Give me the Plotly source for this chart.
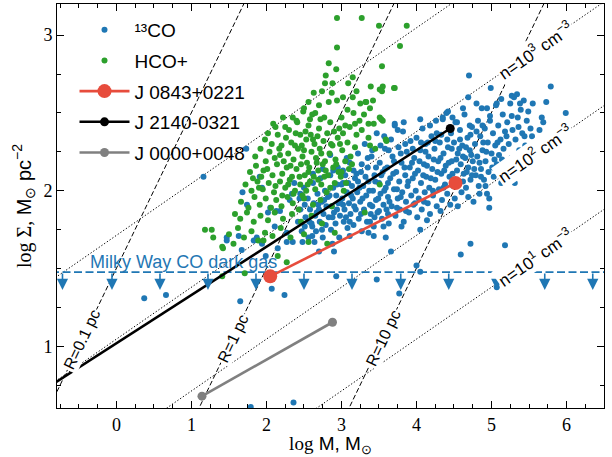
import numpy as np
import plotly.graph_objects as go

# ---------------- data ----------------
x_range = [-0.793, 6.5]
y_range = [0.604, 3.2]
x_ticks = [0, 1, 2, 3, 4, 5, 6]
y_ticks = [1, 2, 3]

# 13CO clouds: (log M, log Sigma)
co_points = [
    (1.16, 2.09), (1.73, 2.27), (1.68, 1.99), (1.74, 1.91), (2.02, 1.86), (2.13, 1.87), (2.37, 2.05), (2.34, 1.98),
    (0.37, 1.31), (0.66, 1.33), (1.65, 1.29), (2.07, 1.37), (2.24, 1.33), (1.79, 0.61), (2.36, 0.64),
    (1.47, 1.70), (1.63, 1.71), (1.83, 1.68), (1.94, 1.66), (1.99, 1.58), (2.15, 1.63), (2.27, 1.67), (2.35, 1.67),
    (2.48, 1.67), (2.61, 1.71), (2.64, 1.67), (2.88, 1.66), (2.90, 1.61), (2.70, 1.61), (3.11, 1.71), (3.43, 1.71),
    (3.59, 1.70), (3.66, 1.61), (2.93, 1.45), (3.47, 1.43), (3.77, 1.34), (4.00, 1.52), (4.05, 1.48), (4.59, 1.59),
    (4.72, 1.66), (5.18, 1.65), (5.07, 1.38), (4.05, 1.75),
    (1.91, 2.09), (1.94, 2.02), (2.05, 1.89), (2.18, 1.87), (2.31, 1.94), (2.45, 1.98), (2.51, 1.91), (2.61, 1.77),
    (2.74, 1.75), (2.27, 1.73), (2.11, 1.77), (1.87, 1.70), (1.67, 1.62), (1.47, 1.68), (2.94, 1.88), (3.02, 2.05),
    (2.62, 2.11), (2.75, 2.14), (2.89, 2.13), (3.02, 2.13), (3.07, 2.21), (2.85, 2.23),
    (2.42, 1.80), (2.45, 1.88), (2.47, 1.74), (2.50, 2.02), (2.52, 1.83), (2.55, 1.95), (2.56, 1.70), (2.58, 1.88),
    (2.60, 1.79), (2.62, 2.05), (2.63, 1.92), (2.65, 1.84), (2.66, 1.74), (2.68, 1.98), (2.70, 1.88), (2.71, 1.80),
    (2.72, 2.08), (2.74, 1.93), (2.75, 1.70), (2.76, 1.85), (2.78, 2.00), (2.79, 1.78), (2.80, 1.90),
    (2.82, 1.96), (2.83, 1.83), (2.85, 2.10), (2.86, 1.75), (2.87, 1.90), (2.89, 2.02), (2.90, 1.86), (2.92, 1.79),
    (2.93, 1.97), (2.95, 2.15), (2.96, 1.92), (2.97, 1.70), (2.98, 1.84), (3.00, 2.04), (3.01, 1.95), (3.03, 1.80),
    (3.04, 1.88), (3.05, 2.10), (3.07, 1.99), (3.08, 1.76), (3.10, 1.92), (3.11, 2.18), (3.12, 1.85), (3.14, 2.03),
    (3.15, 1.95), (3.16, 1.78), (3.18, 2.08), (3.19, 1.88),
    (3.21, 1.99), (3.22, 2.24), (3.23, 1.82), (3.25, 1.93), (3.26, 2.12), (3.27, 1.74), (3.29, 2.03), (3.30, 1.88),
    (3.31, 2.30), (3.33, 1.97), (3.34, 1.80), (3.35, 2.15), (3.36, 2.06), (3.38, 1.91), (3.39, 1.85), (3.40, 2.22),
    (3.42, 2.00), (3.43, 1.77), (3.44, 2.10), (3.46, 1.94), (3.47, 2.37), (3.48, 1.86), (3.50, 2.05), (3.51, 2.18),
    (3.52, 1.98), (3.54, 1.82), (3.55, 2.12), (3.56, 1.91), (3.58, 2.27), (3.59, 2.02), (3.60, 1.88),
    (3.61, 2.15), (3.62, 1.96), (3.63, 1.79), (3.65, 2.08), (3.66, 2.33), (3.67, 1.90), (3.68, 2.22), (3.70, 2.01),
    (3.71, 2.43), (3.72, 1.84), (3.73, 2.12), (3.75, 1.95), (3.76, 2.28), (3.77, 2.06), (3.78, 1.88), (3.80, 2.18),
    (3.81, 1.99), (3.82, 2.38), (3.83, 1.80), (3.85, 2.10), (3.86, 1.93), (3.87, 2.25), (3.88, 2.03), (3.90, 1.86),
    (3.91, 2.15), (3.92, 2.32), (3.93, 1.97), (3.95, 2.08), (3.96, 1.91), (3.97, 2.21), (3.99, 2.00), (4.00, 2.34),
    (4.01, 1.83), (4.02, 2.13), (4.03, 1.95), (4.05, 2.26), (4.06, 2.05), (4.07, 1.88), (4.08, 2.40), (4.10, 2.17),
    (4.11, 1.99), (4.12, 2.30), (4.13, 2.09), (4.15, 1.92), (4.16, 2.22), (4.17, 2.02), (4.18, 1.85), (4.20, 2.35),
    (4.21, 2.14), (4.22, 1.97), (4.24, 2.27), (4.25, 2.07), (4.26, 2.45), (4.27, 1.90), (4.29, 2.19), (4.30, 2.01),
    (4.31, 2.31), (4.33, 2.11), (4.34, 1.94), (4.35, 2.46), (4.36, 2.24), (4.38, 2.04), (4.39, 2.16), (4.40, 2.50),
    (4.41, 1.98), (4.42, 2.28), (4.44, 2.09), (4.45, 1.91), (4.46, 2.37), (4.47, 2.19), (4.49, 2.03), (4.50, 2.31),
    (4.51, 1.95), (4.52, 2.44), (4.54, 2.13), (4.55, 2.24), (4.56, 2.06), (4.58, 2.39), (4.59, 2.17), (4.60, 1.99),
    (4.61, 2.29), (4.63, 2.11), (4.64, 2.49), (4.65, 2.21), (4.66, 2.02), (4.68, 2.34), (4.69, 2.15), (4.70, 2.74),
    (4.71, 2.26), (4.72, 2.07), (4.74, 2.41), (4.75, 2.19), (4.76, 1.93), (4.78, 2.30), (4.79, 2.10),
    (4.81, 2.22), (4.82, 2.45), (4.83, 2.03), (4.85, 2.35), (4.86, 2.14), (4.87, 2.53), (4.88, 2.26), (4.90, 2.07),
    (4.91, 2.40), (4.92, 2.19), (4.94, 1.98), (4.95, 2.31), (4.96, 2.12), (4.97, 1.95), (4.98, 2.48), (4.99, 2.66),
    (5.00, 2.24), (5.02, 2.37), (5.03, 2.09), (5.05, 2.29), (5.06, 2.55), (5.07, 2.17), (5.09, 2.42), (5.10, 2.23),
    (5.12, 2.33), (5.13, 2.05), (5.15, 2.49), (5.16, 2.27), (5.18, 2.38), (5.19, 2.14),
    (5.21, 2.44), (5.23, 2.30), (5.25, 2.56), (5.26, 2.21), (5.28, 2.39), (5.30, 2.60), (5.31, 2.05), (5.32, 2.33),
    (5.34, 2.62), (5.35, 2.47), (5.37, 2.26), (5.39, 2.52), (5.41, 2.37), (5.43, 2.58), (5.45, 2.29), (5.47, 2.45),
    (5.49, 2.51), (5.52, 2.40), (5.55, 2.56), (5.64, 2.39), (5.67, 2.47), (5.69, 2.44), (5.73, 2.57), (5.79, 2.67),
    (5.99, 2.50), (4.97, 1.89), (5.54, 2.35), (5.27, 2.61), (5.38, 2.56),
    (4.69, 2.60), (4.42, 2.51), (5.07, 2.56), (4.35, 2.47), (4.94, 2.53), (3.71, 2.42), (3.75, 2.39), (4.15, 2.31),
    (4.27, 2.37), (4.54, 2.44), (4.71, 2.42), (4.98, 2.45),
    (3.02, 1.91), (3.06, 1.83), (3.09, 2.05), (3.13, 1.97), (3.17, 1.90), (3.20, 2.11), (3.24, 2.02), (3.28, 1.95),
    (3.32, 2.09), (3.37, 2.00), (3.41, 1.90), (3.45, 2.06), (3.49, 1.95), (3.53, 2.10), (3.57, 2.00), (3.62, 2.05),
    (3.64, 1.93), (3.69, 2.11), (3.74, 2.01), (3.79, 1.96), (3.84, 2.15), (3.89, 2.06), (3.94, 2.18), (3.98, 2.11),
    (4.04, 2.19), (4.09, 2.10), (4.14, 2.16), (4.19, 2.08), (4.23, 2.20), (4.28, 2.12), (4.32, 2.21), (4.37, 2.13),
    (4.43, 2.18), (4.48, 2.11), (4.53, 2.20), (4.57, 2.27), (4.62, 2.22), (4.67, 2.12), (4.73, 2.23), (4.77, 2.14),
    (4.84, 2.18), (4.89, 2.31), (4.93, 2.25), (5.01, 2.15), (5.08, 2.31), (5.14, 2.20), (3.95, 2.27), (4.06, 2.31),
    (4.12, 2.25), (4.25, 2.32), (4.33, 2.36), (4.41, 2.33), (4.47, 2.27), (4.58, 2.33), (4.66, 2.28), (4.72, 2.36),
    (4.80, 2.38), (4.88, 2.42), (3.70, 2.19), (3.58, 2.14), (3.46, 2.15), (3.35, 2.21), (3.79, 2.24), (3.85, 2.30),
    (3.63, 2.26), (3.52, 2.29), (3.38, 1.80), (3.50, 1.87), (3.62, 1.85), (3.74, 1.89), (3.86, 1.87), (3.98, 1.92),
    (4.10, 1.93), (4.22, 2.00), (4.36, 2.02), (4.50, 2.07), (4.62, 2.06), (4.74, 2.10), (4.86, 2.09), (5.04, 2.20),
    (5.20, 2.35), (5.27, 2.48), (5.36, 2.41), (5.44, 2.35), (2.98, 1.93), (2.88, 1.83), (2.77, 1.94), (2.67, 1.86),
    (2.57, 1.80), (2.51, 1.77), (2.44, 1.95), (2.69, 1.91), (2.84, 1.97), (2.94, 2.04), (3.22, 2.06), (3.11, 1.80),
    (3.26, 1.85), (3.44, 1.83),
    (3.57, 2.35), (3.83, 2.44), (4.05, 2.46), (4.18, 2.42), (4.48, 2.47), (4.62, 2.53), (4.80, 2.56), (5.13, 2.59),
    (3.27, 2.17), (3.41, 2.26), (3.16, 2.13), (4.92, 2.03), (5.11, 2.11), (5.22, 2.18), (5.33, 2.14), (5.48, 2.22),
    (3.36, 1.73), (3.56, 1.77), (3.80, 1.77), (4.14, 1.81), (4.32, 1.87), (4.55, 1.90), (4.69, 1.96), (4.84, 1.98),
]

# HCO+ clouds: (log M, log Sigma)
hco_points = [
    (2.94, 3.11), (3.27, 3.11), (3.50, 3.06), (3.87, 3.06), (2.94, 2.92), (3.78, 2.93), (3.54, 2.80), (2.83, 2.82),
    (2.93, 2.78), (3.39, 2.67), (3.51, 2.65), (3.71, 2.66), (3.15, 2.73), (3.09, 2.69), (2.79, 2.74), (2.78, 2.69),
    (2.63, 2.63), (2.74, 2.64), (2.87, 2.63), (2.94, 2.58), (3.02, 2.60), (3.15, 2.60), (3.25, 2.56), (3.33, 2.57),
    (3.38, 2.53), (3.42, 2.58), (2.50, 2.53), (2.65, 2.50), (2.77, 2.47), (3.55, 2.67), (3.54, 2.64), (3.70, 2.66),
    (3.53, 2.46), (3.55, 2.45), (3.59, 2.33), (3.32, 2.57), (3.16, 2.50), (3.11, 2.41), (3.18, 2.43), (3.27, 2.39),
    (3.36, 2.43), (3.43, 2.43), (3.51, 2.47), (3.02, 2.37), (2.98, 2.30), (3.36, 2.34), (3.38, 2.29), (3.45, 2.27),
    (3.60, 2.32), (3.05, 2.19), (3.00, 2.12), (3.51, 2.04), (3.31, 1.86),
    (2.12, 2.41), (2.22, 2.47), (2.30, 2.39), (2.35, 2.47), (2.41, 2.44), (2.49, 2.51), (2.56, 2.42), (2.61, 2.49),
    (2.70, 2.40), (2.72, 2.46), (2.85, 2.44), (2.90, 2.38), (3.00, 2.47), (3.05, 2.42), (2.52, 2.38), (2.45, 2.36),
    (1.98, 2.33), (2.07, 2.30), (2.15, 2.36), (2.20, 2.29), (2.26, 2.34), (2.33, 2.31), (2.39, 2.37), (2.47, 2.29),
    (2.53, 2.33), (2.59, 2.36), (2.64, 2.30), (2.68, 2.35), (2.76, 2.32), (2.81, 2.37), (2.88, 2.29), (2.95, 2.34),
    (3.08, 2.31), (3.20, 2.36),
    (1.85, 2.22), (1.92, 2.27), (1.99, 2.19), (2.04, 2.25), (2.11, 2.21), (2.17, 2.27), (2.23, 2.19), (2.29, 2.24),
    (2.36, 2.20), (2.42, 2.27), (2.48, 2.22), (2.54, 2.18), (2.60, 2.25), (2.66, 2.21), (2.71, 2.27), (2.78, 2.19),
    (2.84, 2.24), (2.92, 2.20), (3.01, 2.26), (3.12, 2.22),
    (1.78, 2.12), (1.86, 2.16), (1.93, 2.09), (2.01, 2.14), (2.08, 2.10), (2.14, 2.17), (2.21, 2.11), (2.27, 2.15),
    (2.34, 2.09), (2.40, 2.14), (2.46, 2.17), (2.51, 2.10), (2.57, 2.15), (2.63, 2.09), (2.69, 2.13), (2.75, 2.17),
    (2.82, 2.10), (2.89, 2.15), (2.99, 2.09), (3.10, 2.14),
    (1.72, 2.04), (1.80, 2.00), (1.88, 2.06), (1.95, 2.01), (2.03, 2.05), (2.10, 1.99), (2.18, 2.06), (2.25, 2.02),
    (2.31, 2.07), (2.38, 2.00), (2.45, 2.04), (2.53, 2.00), (2.58, 2.06), (2.65, 2.01), (2.73, 2.04), (2.80, 1.99),
    (2.91, 2.05), (3.03, 2.00),
    (1.66, 1.93), (1.76, 1.89), (1.84, 1.96), (1.91, 1.91), (1.99, 1.95), (2.06, 1.89), (2.13, 1.94), (2.20, 1.90),
    (2.28, 1.96), (2.35, 1.92), (2.43, 1.88), (2.50, 1.95), (2.62, 1.91), (2.72, 1.94), (2.87, 1.90),
    (1.58, 1.85), (1.65, 1.82), (1.74, 1.86), (1.83, 1.80), (1.92, 1.84), (2.02, 1.81), (2.11, 1.86), (2.22, 1.82),
    (2.34, 1.85), (2.46, 1.80), (2.60, 1.84), (2.74, 1.79),
    (1.18, 1.75), (1.27, 1.75), (1.50, 1.72), (1.62, 1.76), (1.70, 1.70), (1.80, 1.74), (1.89, 1.68), (1.98, 1.73),
    (2.08, 1.71), (2.19, 1.76), (2.32, 1.70), (2.50, 1.72), (2.91, 1.73), (2.81, 1.66), (2.56, 1.67),
    (1.29, 1.70), (1.41, 1.64), (1.56, 1.66), (1.96, 1.68), (2.15, 1.58), (2.27, 1.54), (1.71, 1.47), (1.41, 1.45),
    (1.42, 1.63),
    (2.18, 2.23), (2.25, 2.41), (2.32, 2.16), (2.38, 2.29), (2.44, 2.09), (2.50, 2.26), (2.56, 2.12), (2.62, 2.33),
    (2.67, 2.18), (2.73, 2.24), (2.79, 2.13), (2.86, 2.30), (2.93, 2.17), (2.97, 2.40), (2.40, 2.45), (2.58, 2.46),
    (2.12, 2.03), (2.21, 1.97), (2.29, 2.04), (2.36, 1.98), (2.48, 1.97), (2.55, 2.04), (2.69, 2.07), (2.77, 2.09),
    (2.85, 2.02), (2.96, 2.12), (3.06, 2.05), (3.14, 2.17), (3.18, 2.28), (3.24, 2.45), (3.30, 2.49), (2.02, 2.37),
    (2.09, 2.43), (1.96, 2.13), (1.90, 2.02), (1.82, 2.08), (2.56, 2.57), (2.70, 2.55), (2.83, 2.57), (3.08, 2.52),
    (2.88, 2.69), (3.20, 2.64),
]

co_logM = [p[0] for p in co_points]
co_logS = [p[1] for p in co_points]
hco_logM = [p[0] for p in hco_points]
hco_logS = [p[1] for p in hco_points]

# individual sources (start, end)
j0843_logM = [2.05, 4.52]
j0843_logS = [1.45, 2.05]
j2140_logM = [-1.0, 4.45]
j2140_logS = [0.71, 2.40]
j0000_logM = [1.14, 2.88]
j0000_logS = [0.68, 1.155]

# reference lines
density_exp = [1, 2, 3, 4]          # n = 10^k cm^-3
density_label_exp = [1, 2, 3]
radius_pc = [0.1, 1, 10]
radius_labels = ["R=0.1 pc", "R=1 pc", "R=10 pc"]
mw_sigma = 30.0                      # Msun pc^-2, Milky Way CO-dark gas
mw_arrow_logM = [-0.72, -0.06, 0.58, 1.22, 1.86, 2.50, 3.14, 3.79, 4.43, 5.07, 5.71, 6.35]

# label placements (log M along each line)
density_label_logM = 5.58
radius_label_logM = [-0.46, 1.55, 3.55]

# ---------------- helpers ----------------
MH_MSUN_PC3 = 1.6735e-24 * (3.0857e18) ** 3 / 1.989e33   # 1 m_H per cm^3 in Msun/pc^3
MU = 2.0


def density_line(logM, k):
    rho = MU * MH_MSUN_PC3 * 10.0 ** k
    logM = np.asarray(logM, dtype=float)
    return logM / 3.0 + (2.0 / 3.0) * np.log10(rho) + (2.0 / 3.0) * np.log10(4 * np.pi / 3) - np.log10(np.pi)


def radius_line(logM, R):
    return np.asarray(logM, dtype=float) - np.log10(np.pi * R ** 2)


BLUE = "#1f77b4"
GREEN = "#2ca02c"
RED = "#e74c3c"
GRAY = "#808080"
SANS = "Liberation Sans"
SERIF = "Liberation Serif"

fig = go.Figure()

ext = np.array([x_range[0] - 1.0, x_range[1] + 1.0])
for k in density_exp:
    fig.add_trace(go.Scatter(x=ext, y=density_line(ext, k), mode="lines", showlegend=False,
                             line=dict(color="black", width=1, dash="1.3px,2px"), hoverinfo="skip"))
for R in radius_pc:
    fig.add_trace(go.Scatter(x=ext, y=radius_line(ext, R), mode="lines", showlegend=False,
                             line=dict(color="black", width=1, dash="5px,2.5px"), hoverinfo="skip"))

# Milky Way line
fig.add_trace(go.Scatter(x=ext, y=[np.log10(mw_sigma)] * 2, mode="lines", showlegend=False,
                         line=dict(color=BLUE, width=1.8, dash="8px,3.5px"), hoverinfo="skip"))

fig.add_trace(go.Scatter(x=co_logM, y=co_logS, mode="markers", name="¹³CO", legendgroup="a",
                         marker=dict(color=BLUE, size=6, line=dict(width=0))))
fig.add_trace(go.Scatter(x=hco_logM, y=hco_logS, mode="markers", name="HCO+", legendgroup="b",
                         marker=dict(color=GREEN, size=6, line=dict(width=0))))
fig.add_trace(go.Scatter(x=j0843_logM, y=j0843_logS, mode="lines+markers", name="J 0843+0221", legendgroup="c",
                         line=dict(color=RED, width=2.6), marker=dict(color=RED, size=14)))
fig.add_trace(go.Scatter(x=j2140_logM, y=j2140_logS, mode="lines+markers", name="J 2140-0321", legendgroup="d",
                         line=dict(color="black", width=2.6), marker=dict(color="black", size=9)))
fig.add_trace(go.Scatter(x=j0000_logM, y=j0000_logS, mode="lines+markers", name="J 0000+0048", legendgroup="e",
                         line=dict(color=GRAY, width=2.6), marker=dict(color=GRAY, size=9)))

# ---------------- annotations ----------------
ann = []
mw_log = float(np.log10(mw_sigma))
for xa in mw_arrow_logM:
    ann.append(dict(x=xa, y=mw_log - 0.115, ax=xa, ay=mw_log, xref="x", yref="y", axref="x", ayref="y",
                    text="", showarrow=True, arrowhead=2, arrowsize=1.4, arrowwidth=1.6,
                    arrowcolor=BLUE, standoff=0))

ann.append(dict(x=-0.38, y=mw_log + 0.065, xref="x", yref="y", xanchor="left", yanchor="middle",
                text="Milky Way CO dark gas", showarrow=False,
                font=dict(family=SANS, size=18, color=BLUE)))

px_per_x = 547.0 / (x_range[1] - x_range[0])
px_per_y = 406.0 / (y_range[1] - y_range[0])
ang_n = float(np.degrees(np.arctan((1 / 3) * px_per_y / px_per_x)))
ang_R = float(np.degrees(np.arctan(px_per_y / px_per_x)))

for k in density_label_exp:
    ann.append(dict(x=density_label_logM, y=float(density_line(density_label_logM, k)), xref="x", yref="y",
                    text=f"n=10<sup>{k}</sup> cm<sup>−3</sup>", showarrow=False, textangle=-ang_n,
                    bgcolor="white", borderpad=1,
                    font=dict(family=SANS, size=17, color="black")))
for R, lab, xl in zip(radius_pc, radius_labels, radius_label_logM):
    ann.append(dict(x=xl, y=float(radius_line(xl, R)), xref="x", yref="y",
                    text=lab, showarrow=False, textangle=-ang_R, bgcolor="white", borderpad=1,
                    font=dict(family=SANS, size=16, color="black")))

axis_common = dict(showline=True, linecolor="black", linewidth=1, mirror="allticks",
                   ticks="inside", ticklen=7, tickwidth=1, tickcolor="black",
                   showgrid=False, zeroline=False,
                   tickfont=dict(family=SERIF, size=18, color="black"),
                   minor=dict(ticks="inside", ticklen=4, tickwidth=1, tickcolor="black", dtick=0.25, showgrid=False))

fig.update_layout(
    width=612, height=457,
    margin=dict(l=57, r=8, t=3, b=48),
    paper_bgcolor="white", plot_bgcolor="white",
    xaxis=dict(range=x_range, tickvals=x_ticks, **axis_common,
               title=dict(text=f"<span style='font-family:{SERIF}'>log</span> M, M<sub>⊙</sub>",
                          font=dict(family=SANS, size=19, color="black"), standoff=6)),
    yaxis=dict(range=y_range, tickvals=y_ticks, **axis_common,
               title=dict(text=f"<span style='font-family:{SERIF}'>log Σ,</span> M<sub>⊙</sub> pc<sup>−2</sup>",
                          font=dict(family=SANS, size=20, color="black"), standoff=6)),
    legend=dict(x=0.032, y=0.983, xanchor="left", yanchor="top", bgcolor="rgba(0,0,0,0)",
                font=dict(family=SANS, size=19, color="black"), itemsizing="trace", itemwidth=50,
                traceorder="grouped", tracegroupgap=3),
    annotations=ann,
    showlegend=True,
)

fig.write_html("out.html", config={"displayModeBar": False},
               post_script="document.body.style.margin='0';document.body.style.overflow='hidden';")
